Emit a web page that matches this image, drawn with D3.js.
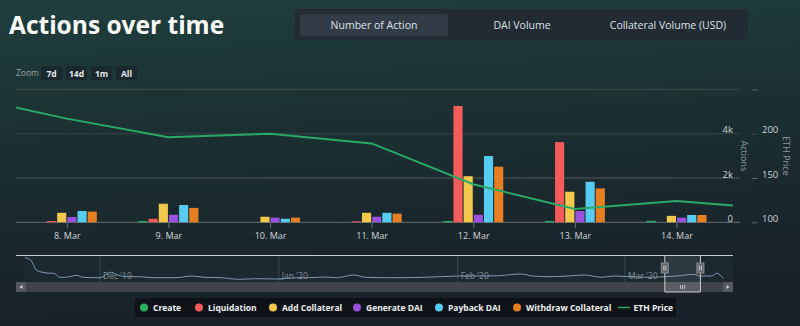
<!DOCTYPE html>
<html>
<head>
<meta charset="utf-8">
<script src="https://cdn.jsdelivr.net/npm/d3@7"></script>
<style>
  html, body { margin: 0; padding: 0; background: #19222a; }
  svg { display: block; font-family: "Open Sans", sans-serif; }
</style>
</head>
<body>
<div id="chart"></div>
<script>

// days shown in the main chart
const days = ["2020-03-08", "2020-03-09", "2020-03-10", "2020-03-11", "2020-03-12", "2020-03-13", "2020-03-14"]

const seriesNames = ["Create", "Liquidation", "Add Collateral", "Generate DAI", "Payback DAI", "Withdraw Collateral"]
const seriesColors = ["#27ae60", "#f45b5b", "#f2c94c", "#9b51e0", "#56ccf2", "#e67e22"]

// actions per day, one array per series
const create = [0, 60, 0, 0, 60, 60, 70]
const liquidation = [60, 160, 0, 40, 5250, 3620, 0]
const addCollateral = [430, 840, 250, 430, 2080, 1380, 290]
const generateDai = [240, 340, 210, 250, 340, 510, 210]
const paybackDai = [510, 780, 160, 430, 2990, 1830, 330]
const withdrawCollateral = [480, 650, 210, 390, 2510, 1530, 330]

// ETH price line
const ethDates = ["2020-03-07T00:00", "2020-03-08T00:00", "2020-03-09T00:00", "2020-03-10T00:00", "2020-03-11T00:00",
                  "2020-03-12T00:00", "2020-03-13T00:00", "2020-03-14T00:00", "2020-03-14T13:20"]
const ethPrice = [242, 217, 196, 200, 189, 143, 115, 124, 119]

// navigator series (thousand actions per day)
const navDates = ["2019-11-18", "2019-11-19", "2019-11-20", "2019-11-21", "2019-11-22", "2019-11-23", "2019-11-24",
                  "2019-11-25", "2019-11-27", "2019-11-28", "2019-12-01", "2019-12-03", "2019-12-04", "2019-12-06",
                  "2019-12-08", "2019-12-10", "2019-12-14", "2019-12-17", "2019-12-19", "2019-12-22", "2019-12-25",
                  "2019-12-28", "2020-01-01", "2020-01-04", "2020-01-06", "2020-01-09", "2020-01-11", "2020-01-14",
                  "2020-01-16", "2020-01-20", "2020-01-22", "2020-01-26", "2020-01-29", "2020-02-01", "2020-02-06",
                  "2020-02-08", "2020-02-12", "2020-02-14", "2020-02-17", "2020-02-20", "2020-02-23", "2020-02-26",
                  "2020-02-28", "2020-03-02", "2020-03-05", "2020-03-08", "2020-03-10", "2020-03-13", "2020-03-14",
                  "2020-03-16", "2020-03-17", "2020-03-18"]
const navValues = [56, 50, 26, 21, 19, 18.5, 9, 8.9, 13.7, 8.9, 7.9, 20.9, 14.4, 10.3, 10.3, 7.9, 7.9, 12, 8.9, 7.9, 4.1,
                   5.5, 4.8, 7.9, 7.9, 9.6, 7.9, 14.4, 8.9, 7.9, 7.9, 8.9, 10.3, 12, 12, 12.7, 16.8, 12, 10.3, 12, 14.4,
                   8.9, 12, 10.3, 8.9, 10.3, 12, 16, 12, 12, 18.5, 6.5]
const navMonths = ["2019-12-01", "2020-01-01", "2020-02-01", "2020-03-01"]
const navSelection = ["2020-03-07T22:00", "2020-03-14T02:00"]

const tabs = ["Number of Action", "DAI Volume", "Collateral Volume (USD)"]
const zoomButtons = ["7d", "14d", "1m", "All"]

createChart()

function createChart() {

	///////////////////////////////////////////////////////////////////////////
	//////////////////////////// Set up the svg ///////////////////////////////
	///////////////////////////////////////////////////////////////////////////

	var width = 800
	var height = 326
	var parse = d3.isoParse

	const svg = d3.select("#chart").append("svg")
		.attr("width", width)
		.attr("height", height)

	var defs = svg.append("defs")
	var bg = defs.append("linearGradient").attr("id", "bg")
		.attr("x1", 0).attr("y1", 0).attr("x2", 0.15).attr("y2", 1)
	bg.append("stop").attr("offset", "0%").attr("stop-color", "#1f3f3d")
	bg.append("stop").attr("offset", "45%").attr("stop-color", "#1b2f31")
	bg.append("stop").attr("offset", "100%").attr("stop-color", "#19212a")

	svg.append("rect").attr("width", width).attr("height", height).attr("fill", "url(#bg)")

	///////////////////////////////////////////////////////////////////////////
	////////////////////////////// Header /////////////////////////////////////
	///////////////////////////////////////////////////////////////////////////

	svg.append("text")
		.attr("x", 9).attr("y", 33.5)
		.style("font-size", "24.5px").style("font-weight", 700)
		.attr("fill", "#ffffff")
		.text("Actions over time")

	svg.append("rect").attr("x", 295).attr("y", 9).attr("width", 453).attr("height", 31)
		.attr("rx", 3).attr("fill", "#222a33")
	svg.append("rect").attr("x", 300).attr("y", 14).attr("width", 148).attr("height", 22)
		.attr("rx", 3).attr("fill", "#323c46")

	var tabX = [374, 522, 668]
	svg.selectAll(".tab").data(tabs).enter().append("text")
		.attr("x", (d, i) => tabX[i]).attr("y", 29)
		.attr("text-anchor", "middle")
		.style("font-size", "10.5px")
		.attr("fill", "#dfe3e6")
		.text(d => d)

	svg.append("text").attr("x", 16).attr("y", 76)
		.style("font-size", "8.5px").attr("fill", "#9aa3a6").text("Zoom")

	var zb = svg.selectAll(".zb").data(zoomButtons).enter().append("g")
		.attr("transform", (d, i) => `translate(${41 + i * 25},66)`)
	zb.append("rect").attr("width", 21).attr("height", 14).attr("fill", "#1b292e")
	zb.append("text").attr("x", 10.5).attr("y", 10.5).attr("text-anchor", "middle")
		.style("font-size", "8.5px").style("font-weight", 700).attr("fill", "#e8ecee").text(d => d)

	///////////////////////////////////////////////////////////////////////////
	/////////////////////////////// Create scales /////////////////////////////
	///////////////////////////////////////////////////////////////////////////

	var left = 16, right = 740, top = 89.4, bottom = 222.3

	var xScale = d3.scaleTime()
		.domain([parse("2020-03-07T12:00"), parse("2020-03-14T15:00")])
		.range([left, right])

	var yScale = d3.scaleLinear()
		.domain([0, 6000])
		.range([bottom, top])

	var ethScale = d3.scaleLinear()
		.domain([100, 250])
		.range([bottom, top])

	var groupScale = d3.scaleBand()
		.domain(seriesNames)
		.range([-30, 30])
		.paddingInner(0.1)

	var series = [create, liquidation, addCollateral, generateDai, paybackDai, withdrawCollateral]

	///////////////////////////////////////////////////////////////////////////
	////////////////////////////// Grid and axes //////////////////////////////
	///////////////////////////////////////////////////////////////////////////

	var gridStyle = { 0: ["#6a6e70", 1], 2000: ["#50585a", 1], 4000: ["#2c3b3c", 2], 6000: ["#37473f", 1.5] }

	svg.append("g").selectAll("line")
		.data(yScale.ticks(3))
		.enter().append("line")
		.attr("x1", left).attr("x2", right)
		.attr("y1", d => yScale(d)).attr("y2", d => yScale(d))
		.attr("stroke", d => gridStyle[d][0])
		.attr("stroke-width", d => gridStyle[d][1])

	var xAxis = svg.append("g")
		.attr("transform", `translate(0,${bottom})`)
		.call(d3.axisBottom(xScale)
			.ticks(d3.timeDay.every(1))
			.tickFormat(d3.timeFormat("%-d. %b"))
			.tickSize(6).tickPadding(4))
	xAxis.select(".domain").remove()
	xAxis.selectAll(".tick line").attr("stroke", "#6a6e70")
	xAxis.selectAll(".tick text").attr("fill", "#d0d4d6").style("font-size", "9px")
		.style("font-family", "Open Sans, sans-serif")

	var yAxis = svg.append("g")
		.attr("transform", `translate(${right - 3},0)`)
		.call(d3.axisLeft(yScale).ticks(3)
			.tickFormat(d => d === 0 ? "0" : d / 1000 + "k")
			.tickSize(0).tickPadding(4))
	yAxis.select(".domain").remove()
	yAxis.selectAll(".tick text").attr("fill", "#d0d4d6").attr("dy", "-0.1em")
		.style("font-size", "9.5px").style("font-family", "Open Sans, sans-serif")
	yAxis.selectAll(".tick").filter(d => d === 6000).remove()

	var ethAxis = svg.append("g")
		.attr("transform", `translate(752,0)`)
		.call(d3.axisRight(ethScale).ticks(3).tickSize(6).tickPadding(4))
	ethAxis.select(".domain").remove()
	ethAxis.selectAll(".tick line").attr("stroke", d => d === 200 ? "#35484a" : "#5a6062")
	ethAxis.selectAll(".tick text").attr("fill", "#d0d4d6").attr("dy", "-0.1em")
		.style("font-size", "9.5px").style("font-family", "Open Sans, sans-serif")
	ethAxis.selectAll(".tick").filter(d => d === 250).select("text").remove()

	svg.append("text")
		.attr("transform", `translate(741,${(top + bottom) / 2}) rotate(90)`)
		.attr("text-anchor", "middle")
		.style("font-size", "9px").attr("fill", "#8e979a").text("Actions")

	svg.append("text")
		.attr("transform", `translate(783,${(top + bottom) / 2}) rotate(90)`)
		.attr("text-anchor", "middle")
		.style("font-size", "9px").attr("fill", "#8e979a").text("ETH Price")

	///////////////////////////////////////////////////////////////////////////
	//////////////////////////////// Bars /////////////////////////////////////
	///////////////////////////////////////////////////////////////////////////

	var groups = svg.append("g").selectAll("g")
		.data(days)
		.enter().append("g")
		.attr("transform", d => `translate(${xScale(parse(d))},0)`)

	groups.selectAll("rect")
		.data((d, i) => seriesNames.map((s, j) => ({ name: s, value: series[j][i], color: seriesColors[j] })))
		.enter().append("rect")
		.attr("x", d => groupScale(d.name))
		.attr("width", groupScale.bandwidth())
		.attr("y", d => yScale(d.value))
		.attr("height", d => bottom - yScale(d.value))
		.attr("fill", d => d.color)

	///////////////////////////////////////////////////////////////////////////
	////////////////////////////// ETH line ///////////////////////////////////
	///////////////////////////////////////////////////////////////////////////

	svg.append("clipPath").attr("id", "plotClip")
		.append("rect").attr("x", left).attr("y", 0).attr("width", right - left).attr("height", 240)

	var ethLine = d3.line()
		.x(d => xScale(parse(d[0])))
		.y(d => ethScale(d[1]))

	svg.append("path")
		.datum(d3.zip(ethDates, ethPrice))
		.attr("clip-path", "url(#plotClip)")
		.attr("d", ethLine)
		.attr("fill", "none")
		.attr("stroke", "#2aa865")
		.attr("stroke-width", 2)

	///////////////////////////////////////////////////////////////////////////
	////////////////////////////// Navigator //////////////////////////////////
	///////////////////////////////////////////////////////////////////////////

	var navTop = 255.5, navBottom = 282, scrollBottom = 292
	var navX = d3.scaleTime()
		.domain([parse("2019-11-18"), parse("2020-03-18")])
		.range([25, 723])
	var navY = d3.scaleLinear().domain([0, 60]).range([281, 256])

	svg.append("rect").attr("x", 25).attr("y", navTop).attr("width", 708).attr("height", navBottom - navTop)
		.attr("fill", "#1c2930")

	svg.append("g").selectAll("line")
		.data(navMonths)
		.enter().append("line")
		.attr("x1", d => navX(parse(d))).attr("x2", d => navX(parse(d)))
		.attr("y1", navTop).attr("y2", navBottom)
		.attr("stroke", "#3e484e")

	svg.append("g").selectAll("text")
		.data(navMonths)
		.enter().append("text")
		.attr("x", d => navX(parse(d)) + 3).attr("y", 279)
		.style("font-size", "8.5px").attr("fill", "#868e93")
		.text(d => d3.timeFormat("%b '%y")(parse(d)))

	var selX0 = navX(parse(navSelection[0])), selX1 = navX(parse(navSelection[1]))
	svg.append("rect").attr("x", selX0).attr("y", navTop).attr("width", selX1 - selX0)
		.attr("height", navBottom - navTop).attr("fill", "#ffffff").attr("fill-opacity", 0.08)

	svg.append("path")
		.datum(d3.zip(navDates, navValues))
		.attr("d", d3.line().curve(d3.curveMonotoneX)
			.x(d => navX(parse(d[0])))
			.y(d => navY(d[1])))
		.attr("fill", "none")
		.attr("stroke", "#7e9ab4")
		.attr("stroke-width", 1)

	// scrollbar
	svg.append("rect").attr("x", left).attr("y", navBottom).attr("width", 717).attr("height", scrollBottom - navBottom)
		.attr("fill", "#404448")
	svg.append("rect").attr("x", left).attr("y", navBottom).attr("width", 10).attr("height", scrollBottom - navBottom)
		.attr("fill", "#55595d")
	svg.append("rect").attr("x", 723).attr("y", navBottom).attr("width", 10).attr("height", scrollBottom - navBottom)
		.attr("fill", "#55595d")
	svg.append("path").attr("d", `M22.5,${navBottom + 3}L19.5,${navBottom + 5}L22.5,${navBottom + 7}Z`).attr("fill", "#cfd2d4")
	svg.append("path").attr("d", `M726.5,${navBottom + 3}L729.5,${navBottom + 5}L726.5,${navBottom + 7}Z`).attr("fill", "#cfd2d4")

	svg.append("rect").attr("x", selX0).attr("y", navBottom).attr("width", selX1 - selX0)
		.attr("height", scrollBottom - navBottom).attr("fill", "#5a5e62")
	var midSel = (selX0 + selX1) / 2
	svg.append("g").selectAll("line").data([-2, 0, 2]).enter().append("line")
		.attr("x1", d => midSel + d).attr("x2", d => midSel + d)
		.attr("y1", navBottom + 3).attr("y2", navBottom + 7)
		.attr("stroke", "#bfc3c6")

	// outline
	svg.append("path")
		.attr("d", `M${left},${navTop}H${selX0}V${scrollBottom}H${selX1}V${navTop}H733`)
		.attr("fill", "none").attr("stroke", "#c9cccd").attr("stroke-width", 1)
	svg.append("path")
		.attr("d", `M${selX0},${navTop}H${selX1}`)
		.attr("fill", "none").attr("stroke", "#c9cccd").attr("stroke-width", 1)

	// handles
	var handles = svg.append("g").selectAll("g").data([selX0, selX1]).enter().append("g")
		.attr("transform", d => `translate(${d},263)`)
	handles.append("rect").attr("x", -3.5).attr("width", 7).attr("height", 10)
		.attr("fill", "#63676b").attr("stroke", "#8a8e91")
	handles.selectAll("line").data([-1, 1]).enter().append("line")
		.attr("x1", d => d).attr("x2", d => d).attr("y1", 2.5).attr("y2", 7.5)
		.attr("stroke", "#c9cccd")

	///////////////////////////////////////////////////////////////////////////
	////////////////////////////// Legend /////////////////////////////////////
	///////////////////////////////////////////////////////////////////////////

	svg.append("rect").attr("x", 135).attr("y", 298).attr("width", 541).attr("height", 19)
		.attr("fill", "#0f1317")

	var legendX = [144, 199, 273, 357, 439, 517]
	var legend = svg.append("g").selectAll("g")
		.data(seriesNames)
		.enter().append("g")
		.attr("transform", (d, i) => `translate(${legendX[i]},307.5)`)
	legend.append("circle").attr("r", 4).attr("fill", (d, i) => seriesColors[i])
	legend.append("text").attr("x", 9).attr("y", 3.3)
		.style("font-size", "8.5px").style("font-weight", 700).attr("fill", "#eef0f2")
		.text(d => d)

	svg.append("line").attr("x1", 618).attr("x2", 630).attr("y1", 307.5).attr("y2", 307.5)
		.attr("stroke", "#2aa865").attr("stroke-width", 1.5)
	svg.append("text").attr("x", 633.5).attr("y", 310.8)
		.style("font-size", "8.5px").style("font-weight", 700).attr("fill", "#eef0f2")
		.text("ETH Price")

}//function createChart
</script>
</body>
</html>
